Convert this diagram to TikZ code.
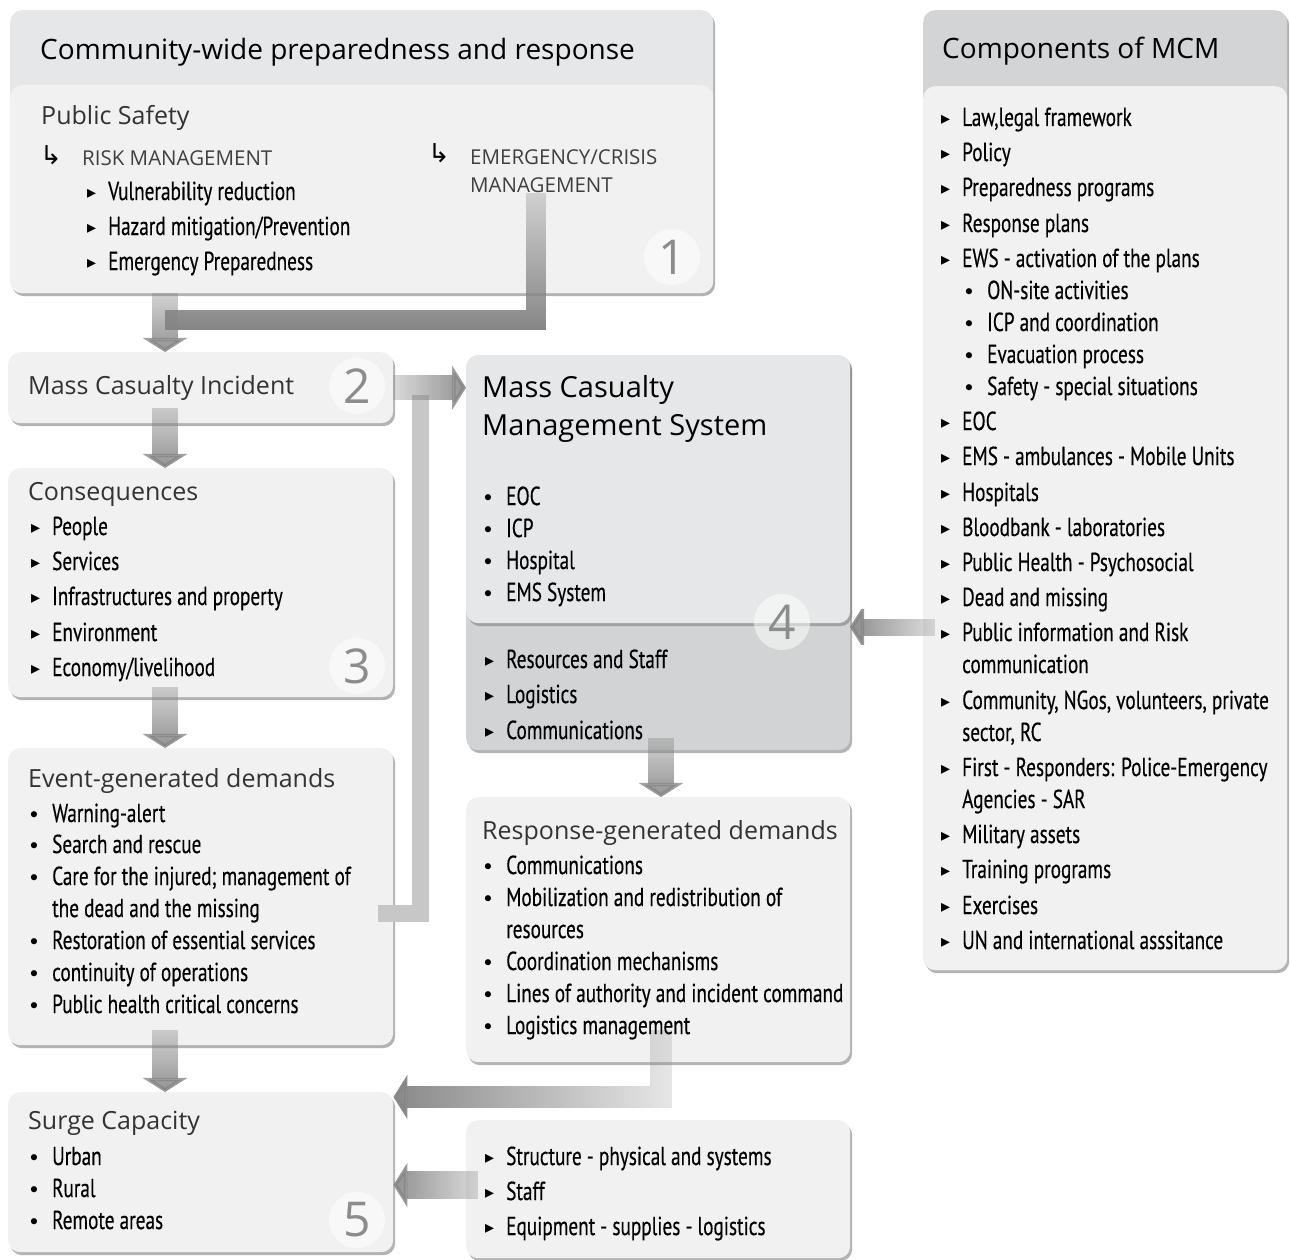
\documentclass[tikz,border=0pt]{standalone}
\usepackage{fontspec}
\setmainfont{Open Sans}
\newfontfamily\cond[FakeStretch=0.74, FakeBold=0.4]{PT Sans}
\newfontfamily\symb{DejaVu Sans}
\usetikzlibrary{arrows.meta,shadows,fadings}

\definecolor{hdrlight}{HTML}{E6E7E8}
\definecolor{hdrdark}{HTML}{D3D4D6}
\definecolor{panelbg}{HTML}{F1F1F2}
\definecolor{lowbg}{HTML}{D1D3D4}
\definecolor{bandgray}{HTML}{858585}

\newcommand\fsz[1]{\fontsize{#1}{#1}\selectfont}
\newcommand\tb{\llap{\raisebox{1.5pt}{\symb\fsz{18}▸}\hspace{12pt}}}
\newcommand\db{\llap{\symb\fsz{21}•\hspace{12pt}}}
\newcommand\twol[3]{\parbox[t]{14cm}{\baselineskip=#1\leavevmode#2\\#3}}

\tikzfading[name=fadedown, top color=transparent!75, bottom color=transparent!0]
\tikzfading[name=fadeleft, left color=transparent!0, right color=transparent!80]
\tikzfading[name=faderight, left color=transparent!80, right color=transparent!0]

\tikzset{
  body/.style={anchor=north west, inner sep=0pt, rounded corners=12pt, fill=#1},
  body/.default=panelbg,
  panel/.style={body=#1, drop shadow={shadow xshift=2pt, shadow yshift=-3pt, opacity=.6}},
  panel/.default=panelbg,
  hd/.style={anchor=base west, inner sep=0pt, font=\fsz{28}},
  lt/.style={anchor=base west, inner sep=0pt, font=\fsz{25}, text=black!80},
  caps/.style={anchor=base west, inner sep=0pt, font=\fsz{20.5}, text=black!75},
  item/.style={anchor=base west, inner sep=0pt, font=\cond\fsz{26}},
  num/.style={circle, fill=white, fill opacity=.5, text opacity=1, minimum size=56pt,
    inner sep=0pt, font=\fsz{48}, text=black!45},
  fat/.style={draw=bandgray, line width=26pt, -{Triangle[width=44pt,length=14pt]}, path fading=fadedown},
  band/.style={draw=bandgray, line width=20pt, path fading=fadedown},
  loopband/.style={draw=black!22, line width=17pt}
}

\begin{document}
\begin{tikzpicture}[x=1pt, y=-1pt]
\useasboundingbox (0,0) rectangle (1290,1260);

% boxes
\node[panel=hdrlight, minimum width=703pt, minimum height=283pt] (comm) at (10,10) {};
\node[body, minimum width=703pt, minimum height=208pt] (commbody) at (10,85) {};
\node[panel, minimum width=385pt, minimum height=71pt] (mci) at (8,352) {};
\node[panel, minimum width=385pt, minimum height=229pt] (cons) at (8,468) {};
\node[panel, minimum width=385pt, minimum height=297pt] (event) at (8,748) {};
\node[panel, minimum width=385pt, minimum height=160pt] (surge) at (8,1092) {};
\node[panel=lowbg, minimum width=384pt, minimum height=395pt] (mcms) at (466,355) {};
\node[panel=hdrlight, minimum width=384pt, minimum height=268pt] (mcmstop) at (466,355) {};
\node[panel, minimum width=384pt, minimum height=265pt] (resp) at (466,797) {};
\node[panel, minimum width=384pt, minimum height=138pt] (struct) at (466,1120) {};
\node[panel=hdrdark, minimum width=364pt, minimum height=960pt] (comp) at (923,10) {};
\node[body, minimum width=364pt, minimum height=884pt] (compbody) at (923,86) {};

\coordinate (dn) at (165,0);
\coordinate (rs) at (661,0);
\coordinate (eb) at (536,212);
\coordinate (ej) at (165,320);
\coordinate (lp) at (420,395);
\coordinate (c4) at (850,627);
\coordinate (sg) at (399,1097);
\coordinate (st) at (399,1185);

% text of box 1
\node[caps] (emerg) at (470,165) {\twol{28pt}{EMERGENCY/CRISIS}{MANAGEMENT}};

% connectors
\draw[loopband] ([shift={(-15pt,-17pt)}]event.east) -| (lp);
\draw[fat] (comm.south -| dn) -- (mci.north -| dn);
\draw[band] (emerg.south -| eb) |- (ej);
\draw[fat] ([yshift=15pt]mci.south -| dn) -- (cons.north -| dn);
\draw[fat] ([yshift=10pt]cons.south -| dn) -- (event.north -| dn);
\draw[fat] ([yshift=15pt]event.south -| dn) -- (surge.north -| dn);
\draw[fat, line width=25pt, path fading=faderight] (mci.east) -- (mcms.west |- mci.east);
\draw[fat, line width=17pt, path fading=fadeleft] ([xshift=12pt]comp.west |- c4) -- (c4);
\draw[fat] ([yshift=12pt]mcms.south -| rs) -- (resp.north -| rs);
\draw[fat, line width=22pt, path fading=fadeleft] ([yshift=32pt]resp.south -| rs) |- (surge.east |- sg);
\draw[fat, line width=28pt, path fading=fadeleft] ([xshift=12pt]struct.west |- st) -- (surge.east |- st);

% 1
\node[hd] (t1) at (40,60) {Community-wide preparedness and response};
\node[lt] (ps) at (41,125) {Public Safety};
\node[anchor=base west, inner sep=0pt, font=\symb\fsz{26}] (ar1) at (40,165) {↳};
\node[caps] (risk) at (82,166) {RISK MANAGEMENT};
\node[item] (v1) at (108,200) {\tb Vulnerability reduction};
\node[item] (v2) at (108,235) {\tb Hazard mitigation/Prevention};
\node[item] (v3) at (108,270) {\tb Emergency Preparedness};
\node[anchor=base west, inner sep=0pt, font=\symb\fsz{26}] (ar2) at (428,163) {↳};
\node[num] (n1) at (672,257) {1};

% 2
\node[lt] (mcit) at (28,394) {Mass Casualty Incident};
\node[num] (n2) at (357,386) {2};

% 3
\node[lt] (const) at (28,500) {Consequences};
\node[item] (k1) at (52,535) {\tb People};
\node[item] (k2) at (52,570) {\tb Services};
\node[item] (k3) at (52,605) {\tb Infrastructures and property};
\node[item] (k4) at (52,641) {\tb Environment};
\node[item] (k5) at (52,676) {\tb Economy/livelihood};
\node[num] (n3) at (357,666) {3};

% event-generated demands
\node[lt] (evt) at (28,787) {Event-generated demands};
\node[item] (e1) at (52,822) {\db Warning-alert};
\node[item] (e2) at (52,853) {\db Search and rescue};
\node[item] (e3) at (52,885) {\twol{32pt}{\db Care for the injured; management of}{the dead and the missing}};
\node[item] (e4) at (52,949) {\db Restoration of essential services};
\node[item] (e5) at (52,981) {\db continuity of operations};
\node[item] (e6) at (52,1013) {\db Public health critical concerns};

% 5
\node[lt] (sgt) at (28,1129) {Surge Capacity};
\node[item] (s1) at (52,1165) {\db Urban};
\node[item] (s2) at (52,1197) {\db Rural};
\node[item] (s3) at (52,1229) {\db Remote areas};
\node[num] (n5) at (357,1220) {5};

% 4
\node[anchor=base west, inner sep=0pt, font=\fsz{29}] (mct) at (482,397) {\twol{38pt}{Mass Casualty}{Management System}};
\node[item] (m1) at (506,505) {\db EOC};
\node[item] (m2) at (506,537) {\db ICP};
\node[item] (m3) at (506,569) {\db Hospital};
\node[item] (m4) at (506,601) {\db EMS System};
\node[item] (m5) at (506,668) {\tb Resources and Staff};
\node[item] (m6) at (506,703) {\tb Logistics};
\node[item] (m7) at (506,739) {\tb Communications};
\node[num] (n4) at (782,622) {4};

% response-generated demands
\node[lt] (rst) at (482,839) {Response-generated demands};
\node[item] (r1) at (506,874) {\db Communications};
\node[item] (r2) at (506,906) {\twol{32pt}{\db Mobilization and redistribution of}{resources}};
\node[item] (r3) at (506,970) {\db Coordination mechanisms};
\node[item] (r4) at (506,1002) {\db Lines of authority and incident command};
\node[item] (r5) at (506,1034) {\db Logistics management};

\node[item] (u1) at (506,1165) {\tb Structure - physical and systems};
\node[item] (u2) at (506,1200) {\tb Staff};
\node[item] (u3) at (506,1235) {\tb Equipment - supplies - logistics};

% components
\node[hd] (cpt) at (942,59) {Components of MCM};
\node[item] (p1) at (962,126) {\tb Law,legal framework};
\node[item] (p2) at (962,161) {\tb Policy};
\node[item] (p3) at (962,196) {\tb Preparedness programs};
\node[item] (p4) at (962,232) {\tb Response plans};
\node[item] (p5) at (962,267) {\tb EWS - activation of the plans};
\node[item] (q1) at (987,299) {\db ON-site activities};
\node[item] (q2) at (987,331) {\db ICP and coordination};
\node[item] (q3) at (987,363) {\db Evacuation process};
\node[item] (q4) at (987,395) {\db Safety - special situations};
\node[item] (p6) at (962,430) {\tb EOC};
\node[item] (p7) at (962,465) {\tb EMS - ambulances - Mobile Units};
\node[item] (p8) at (962,501) {\tb Hospitals};
\node[item] (p9) at (962,536) {\tb Bloodbank - laboratories};
\node[item] (p10) at (962,571) {\tb Public Health - Psychosocial};
\node[item] (p11) at (962,606) {\tb Dead and missing};
\node[item] (p12) at (962,641) {\twol{32pt}{\tb Public information and Risk}{communication}};
\node[item] (p13) at (962,709) {\twol{32pt}{\tb Community, NGos, volunteers, private}{sector, RC}};
\node[item] (p14) at (962,776) {\twol{32pt}{\tb First - Responders: Police-Emergency}{Agencies - SAR}};
\node[item] (p15) at (962,843) {\tb Military assets};
\node[item] (p16) at (962,878) {\tb Training programs};
\node[item] (p17) at (962,914) {\tb Exercises};
\node[item] (p18) at (962,949) {\tb UN and international asssitance};
\end{tikzpicture}
\end{document}
